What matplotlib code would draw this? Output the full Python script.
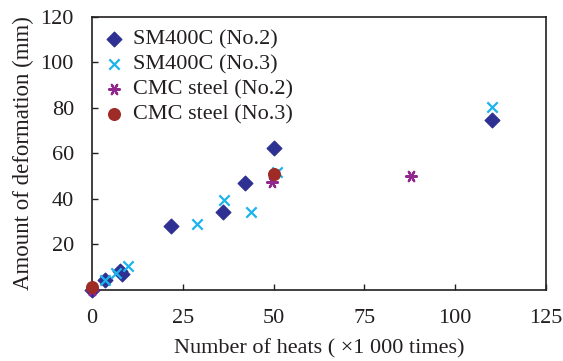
import matplotlib.pyplot as plt

plt.rcParams['font.family'] = ['Liberation Serif', 'DejaVu Serif']

# SM400C (No.2)
sm2_x = [0, 3.6, 7.7, 8.2, 21.7, 36, 42, 50, 110]
sm2_y = [0, 4.4, 8.4, 7.0, 28, 34.2, 47, 62.3, 74.7]
# SM400C (No.3)
sm3_x = [3.6, 6.6, 10, 28.8, 36.4, 43.7, 50.9, 110]
sm3_y = [4.4, 7.3, 10.5, 28.9, 39.6, 34.4, 52, 80.3]
# CMC steel (No.2)
cmc2_x = [0, 49.6, 87.9]
cmc2_y = [0, 47.3, 50.2]
# CMC steel (No.3)
cmc3_x = [0, 50.2]
cmc3_y = [1.2, 51]

fig = plt.figure(figsize=(5.63, 3.61), dpi=100)
ax = fig.add_axes([0.1634, 0.1967, 0.8064, 0.7563])

ax.scatter(sm2_x, sm2_y, marker='D', s=55, color='#2E3192', label='SM400C (No.2)',
           clip_on=False, zorder=3)
ax.scatter(sm3_x, sm3_y, marker='x', s=55, color='#1DB3EC', linewidths=1.6,
           label='SM400C (No.3)', clip_on=False, zorder=3)
ax.scatter(cmc2_x, cmc2_y, marker=(6, 2, 90), s=60, color='#92278F', linewidths=1.6,
           label='CMC steel (No.2)', clip_on=False, zorder=3)
ax.scatter(cmc3_x, cmc3_y, marker='o', s=70, color='#9E2B25', label='CMC steel (No.3)',
           clip_on=False, zorder=4)

ax.set_xlim(0, 125)
ax.set_ylim(0, 120)
ax.set_xticks([0, 25, 50, 75, 100, 125])
ax.set_yticks([20, 40, 60, 80, 100, 120])
ax.tick_params(direction='in', length=4, width=1, labelsize=16,
               top=False, right=False, colors='#231F20')
ax.tick_params(axis='x', pad=14)
ax.tick_params(axis='y', pad=13)
for s in ax.spines.values():
    s.set_linewidth(1.2)
    s.set_color('#231F20')

ax.set_xlabel('Number of heats ( \u00d71 000 times)', fontsize=16, labelpad=8,
              color='#231F20')
ax.set_ylabel('Amount of deformation (mm)', fontsize=16.5, labelpad=5,
              color='#231F20')

leg = ax.legend(loc='upper left', frameon=False, fontsize=16, handletextpad=0.1,
                borderaxespad=0.3, labelspacing=0.2, handlelength=1.5,
                bbox_to_anchor=(-0.022, 1.012))
for t in leg.get_texts():
    t.set_color('#231F20')

fig.savefig('out.png', dpi=100)
